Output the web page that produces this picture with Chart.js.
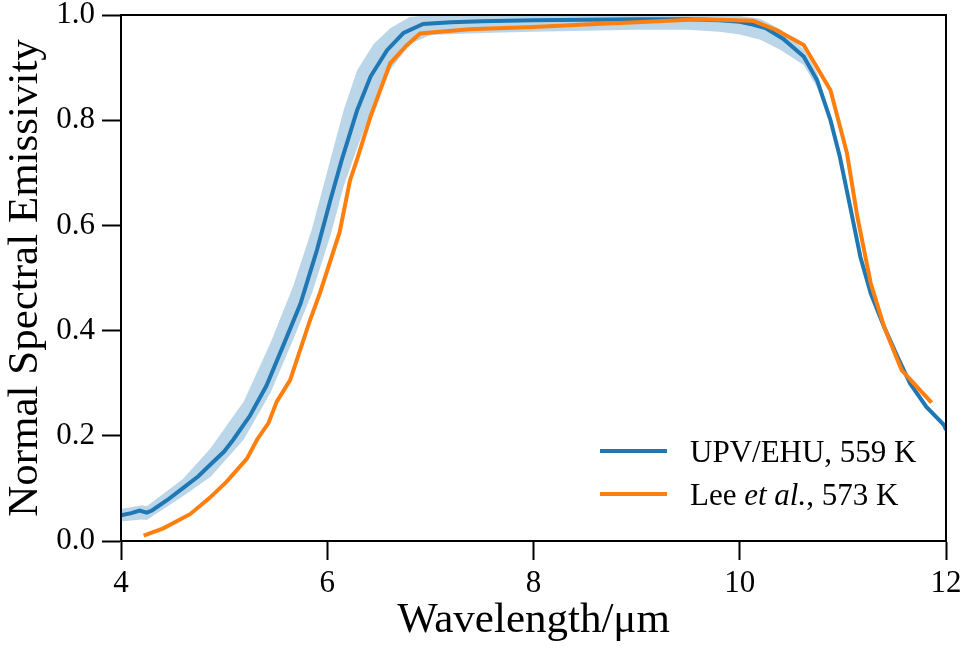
<!DOCTYPE html>
<html>
<head>
<meta charset="utf-8">
<script src="https://cdn.jsdelivr.net/npm/chart.js@4.4.1/dist/chart.umd.min.js"></script>
<style>
  html, body { margin: 0; padding: 0; background: #ffffff; }
  #wrap { width: 964px; height: 649px; }
</style>
</head>
<body>
<div id="wrap"><canvas id="c" width="964" height="649"></canvas></div>
<script>
// ---- Data ----
const xTicks = [4, 6, 8, 10, 12];
const yTicks = [0.0, 0.2, 0.4, 0.6, 0.8, 1.0];

const seriesNames = ["UPV/EHU, 559 K", "Lee et al., 573 K"];

// UPV/EHU, 559 K (blue)
const blueX = [4.0, 4.1, 4.18, 4.25, 4.3, 4.45, 4.61, 4.75, 4.87, 5.0, 5.09, 5.25, 5.41, 5.57, 5.74, 5.9, 6.03, 6.14, 6.29, 6.42, 6.58, 6.74, 6.93, 7.2, 7.5, 8.0, 8.5, 9.0, 9.5, 9.8, 10.0, 10.1, 10.25, 10.42, 10.62, 10.75, 10.88, 10.97, 11.07, 11.17, 11.27, 11.4, 11.53, 11.65, 11.81, 11.98, 12.0];
const blueY = [0.049, 0.053, 0.058, 0.054, 0.058, 0.078, 0.102, 0.123, 0.146, 0.17, 0.193, 0.238, 0.295, 0.37, 0.451, 0.553, 0.648, 0.724, 0.819, 0.883, 0.933, 0.966, 0.983, 0.986, 0.988, 0.99, 0.991, 0.992, 0.992, 0.99, 0.987, 0.983, 0.975, 0.955, 0.921, 0.876, 0.80, 0.731, 0.636, 0.54, 0.471, 0.407, 0.35, 0.30, 0.255, 0.221, 0.211];

// Uncertainty band around the blue series
const bandX     = [4.0, 4.2, 4.25, 4.6, 4.87, 5.19, 5.45, 5.67, 5.85, 6.03, 6.16, 6.29, 6.45, 6.61, 6.8, 7.0, 7.5, 8.0, 8.5, 9.0, 9.5, 9.8, 10.0, 10.2, 10.4, 10.62, 10.75, 10.88, 10.97, 11.07, 11.17, 11.27, 11.4, 11.53, 11.65, 11.81, 12.0];
const bandUpper = [0.061, 0.068, 0.066, 0.118, 0.177, 0.265, 0.377, 0.485, 0.592, 0.725, 0.82, 0.895, 0.945, 0.975, 0.996, 1.0, 1.0, 1.0, 1.0, 1.0, 1.0, 1.0, 0.998, 0.993, 0.972, 0.935, 0.89, 0.81, 0.74, 0.645, 0.547, 0.476, 0.411, 0.353, 0.302, 0.257, 0.213];
const bandLower = [0.037, 0.041, 0.040, 0.085, 0.122, 0.193, 0.282, 0.383, 0.47, 0.58, 0.675, 0.747, 0.83, 0.895, 0.945, 0.962, 0.966, 0.968, 0.97, 0.972, 0.972, 0.968, 0.963, 0.953, 0.933, 0.905, 0.862, 0.79, 0.722, 0.628, 0.533, 0.466, 0.403, 0.347, 0.298, 0.253, 0.209];

// Lee et al., 573 K (orange)
const orangeX = [4.22, 4.41, 4.67, 4.86, 5.02, 5.22, 5.32, 5.43, 5.51, 5.64, 5.83, 5.93, 6.12, 6.22, 6.29, 6.42, 6.61, 6.77, 6.9, 7.38, 8.0, 8.5, 9.0, 9.62, 10.13, 10.36, 10.62, 10.88, 11.04, 11.14, 11.27, 11.4, 11.57, 11.86];
const orangeY = [0.01, 0.024, 0.051, 0.082, 0.112, 0.156, 0.193, 0.224, 0.265, 0.306, 0.418, 0.472, 0.587, 0.685, 0.726, 0.807, 0.908, 0.942, 0.965, 0.973, 0.977, 0.982, 0.986, 0.992, 0.989, 0.971, 0.943, 0.857, 0.737, 0.617, 0.49, 0.407, 0.325, 0.263];

// ---- Build ----
const pts = (xs, ys) => xs.map((x, i) => ({ x: x, y: ys[i] }));
const BLUE = '#1f77b4';
const ORANGE = '#ff7f0e';
const SERIF = '"Liberation Serif", "DejaVu Serif", serif';

const framePlugin = {
  id: 'frame',
  afterDatasetsDraw(chart) {
    const { ctx, chartArea: a } = chart;
    ctx.save();
    ctx.strokeStyle = '#000';
    ctx.lineWidth = 2;
    ctx.strokeRect(a.left, a.top, a.right - a.left, a.bottom - a.top);
    ctx.restore();
  }
};

const legendPlugin = {
  id: 'customLegend',
  afterDraw(chart) {
    const { ctx, chartArea: a } = chart;
    const lineX0 = a.left + 479, lineX1 = a.left + 546, textX = a.left + 569;
    const rows = [a.top + 436, a.top + 479];
    ctx.save();
    ctx.lineWidth = 4;
    ctx.lineCap = 'butt';
    ctx.strokeStyle = BLUE;
    ctx.beginPath(); ctx.moveTo(lineX0, rows[0]); ctx.lineTo(lineX1, rows[0]); ctx.stroke();
    ctx.strokeStyle = ORANGE;
    ctx.beginPath(); ctx.moveTo(lineX0, rows[1]); ctx.lineTo(lineX1, rows[1]); ctx.stroke();
    ctx.fillStyle = '#000';
    ctx.textBaseline = 'alphabetic';
    ctx.textAlign = 'left';
    const fs = 31;
    ctx.font = fs + 'px ' + SERIF;
    ctx.fillText(seriesNames[0], textX, rows[0] + 10.5);
    // "Lee et al., 573 K" with italic "et al."
    let x = textX;
    const y2 = rows[1] + 11;
    ctx.font = fs + 'px ' + SERIF;
    ctx.fillText('Lee ', x, y2); x += ctx.measureText('Lee ').width;
    ctx.font = 'italic ' + fs + 'px ' + SERIF;
    ctx.fillText('et al.', x, y2); x += ctx.measureText('et al.').width;
    ctx.font = fs + 'px ' + SERIF;
    ctx.fillText(', 573 K', x, y2);
    ctx.restore();
  }
};

const tickFont = { family: SERIF, size: 31, lineHeight: 1 };
const zeroPad = (s) => { s.paddingTop = 0; s.paddingBottom = 0; s.paddingLeft = 0; s.paddingRight = 0; };

new Chart(document.getElementById('c'), {
  type: 'line',
  data: {
    datasets: [
      { label: 'band-lower', data: pts(bandX, bandLower), borderWidth: 0, pointRadius: 0, fill: false, order: 4, borderColor: 'rgba(0,0,0,0)' },
      { label: 'band-upper', data: pts(bandX, bandUpper), borderWidth: 0, pointRadius: 0, fill: '-1', order: 3, borderColor: 'rgba(0,0,0,0)', backgroundColor: 'rgba(31,119,180,0.3)' },
      { label: seriesNames[0], data: pts(blueX, blueY), borderColor: BLUE, borderWidth: 4, pointRadius: 0, fill: false, order: 2, tension: 0 },
      { label: seriesNames[1], data: pts(orangeX, orangeY), borderColor: ORANGE, borderWidth: 4, pointRadius: 0, fill: false, order: 1, tension: 0 }
    ]
  },
  options: {
    responsive: false,
    animation: false,
    devicePixelRatio: 1,
    layout: { padding: { left: 0, top: 15, right: 18, bottom: 0 } },
    plugins: { legend: { display: false }, tooltip: { enabled: false } },
    scales: {
      x: {
        type: 'linear', min: 4, max: 12,
        afterBuildTicks: (s) => { s.ticks = xTicks.map(v => ({ value: v })); },
        afterFit: (s) => { s.height = 108; zeroPad(s); },
        ticks: { font: tickFont, color: '#000', padding: 8, maxRotation: 0, callback: (v) => String(v) },
        grid: { display: true, drawOnChartArea: false, drawTicks: true, tickLength: 19, tickWidth: 2, tickColor: '#000' },
        border: { display: true, color: '#000', width: 2 },
        title: { display: true, text: 'Wavelength/\u03bcm', font: { family: SERIF, size: 43 }, color: '#000', padding: { top: 0, bottom: 2 } }
      },
      y: {
        type: 'linear', min: 0, max: 1,
        afterBuildTicks: (s) => { s.ticks = yTicks.map(v => ({ value: v })); },
        afterFit: (s) => { s.width = 121; zeroPad(s); },
        ticks: { font: tickFont, color: '#000', padding: 7, callback: (v) => Number(v).toFixed(1) },
        grid: { display: true, drawOnChartArea: false, drawTicks: true, tickLength: 19, tickWidth: 2, tickColor: '#000' },
        border: { display: true, color: '#000', width: 2 },
        title: { display: true, text: 'Normal Spectral Emissivity', font: { family: SERIF, size: 43 }, color: '#000', padding: { top: 0, bottom: 0 } }
      }
    }
  },
  plugins: [framePlugin, legendPlugin]
});
</script>
</body>
</html>
